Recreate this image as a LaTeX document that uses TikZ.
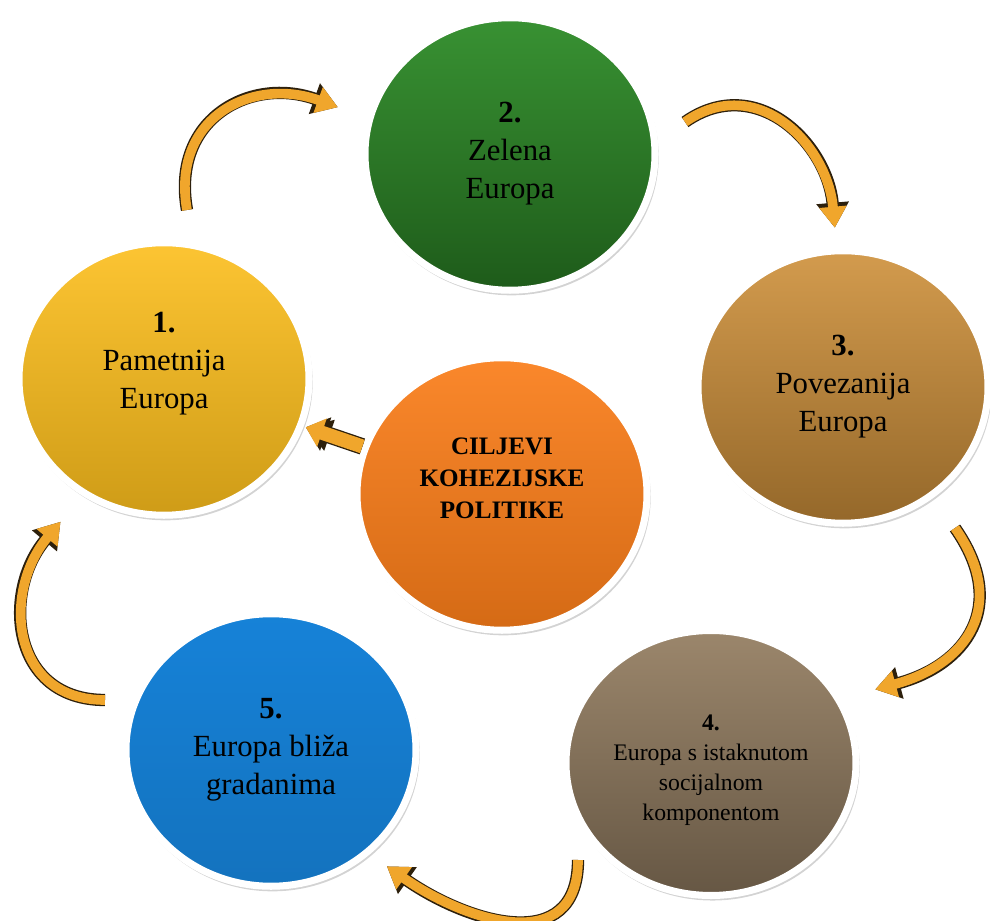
\documentclass[tikz,border=0pt]{standalone}
\usepackage{fontspec}
\setmainfont{Liberation Serif}
\usetikzlibrary{arrows.meta,shapes.geometric,shadows}

\definecolor{goalyellow}{RGB}{252,190,28}
\definecolor{goalgreen}{RGB}{46,140,40}
\definecolor{goalbrown}{RGB}{206,144,58}
\definecolor{goalorange}{RGB}{250,125,25}
\definecolor{goalblue}{RGB}{22,130,216}
\definecolor{goalgrey}{RGB}{150,128,100}
\definecolor{arrowfill}{RGB}{240,166,44}
\definecolor{arrowline}{RGB}{45,32,12}

\begin{document}
\begin{tikzpicture}[goal/.style={ellipse, minimum width=5.8cm, minimum height=5.45cm, draw=white, line width=4pt, inner sep=0pt, align=center, font=\fontsize{17.5}{21.6}\selectfont, drop shadow={shadow scale=1.015, shadow xshift=0.3mm, shadow yshift=-0.6mm, opacity=0.35}},
  flow/.style={draw=arrowfill, line width=5.5pt, shorten >=1.3pt, -{Triangle[length=0.42cm, width=0.52cm]},
    preaction={draw=arrowline, line width=7pt, -{Triangle[length=0.5cm, width=0.62cm]}}}]
\useasboundingbox (0,0) rectangle (19.8,18.42);
%goals
\node[goal, top color=goalyellow!90!white, bottom color=goalyellow!82!black] (c1) at (3.28,10.84) {\textbf{1.}\\Pametnija\\Europa\\\mbox{}};
\node[goal, top color=goalgreen!95!white, bottom color=goalgreen!65!black] (c2) at (10.2,15.34) {\textbf{2.}\\Zelena\\Europa};
\node[goal, top color=goalbrown!90!white, bottom color=goalbrown!72!black] (c3) at (16.86,10.68) {\textbf{3.}\\Povezanija\\Europa};
\node[goal, top color=goalorange!92!white, bottom color=goalorange!85!black, font=\fontsize{14.3}{18.2}\selectfont\bfseries] (c0) at (10.04,8.54) {CILJEVI\\KOHEZIJSKE\\POLITIKE\\\mbox{}};
\node[goal, top color=goalblue, bottom color=goalblue!88!black] (c5) at (5.42,3.42) {\textbf{5.}\\Europa bliža\\gradanima};
\node[goal, minimum height=5.3cm, top color=goalgrey!95!white, bottom color=goalgrey!68!black, font=\fontsize{13.5}{17}\selectfont] (c4) at (14.22,3.16) {\mbox{}\\\textbf{4.}\\Europa s istaknutom\\socijalnom\\komponentom};
%arrow ends
\coordinate (a12) at (3.74,14.22);
\coordinate (b12) at (6.80,16.26);
\coordinate (a23) at (13.70,15.98);
\coordinate (b23) at (16.70,13.82);
\coordinate (a34) at (19.10,7.86);
\coordinate (b34) at (17.46,4.62);
\coordinate (a45) at (11.56,1.22);
\coordinate (b45) at (7.70,1.12);
\coordinate (a51) at (2.10,4.42);
\coordinate (b51) at (1.24,8.02);
\draw[flow] (a12) to[out=100, in=160, looseness=1.3] (b12);
\draw[flow] (a23) to[out=35, in=95, looseness=1.2] (b23);
\draw[flow] (a34) to[out=-55, in=15, looseness=1.35] (b34);
\draw[flow] (a45) to[out=-90, in=-35, looseness=1.3] (b45);
\draw[flow] (a51) to[out=180, in=-130, looseness=1.3] (b51);
\draw[flow, line width=8pt, -{Triangle[length=0.34cm, width=0.58cm]}, preaction={draw=arrowline, line width=9.5pt, -{Triangle[length=0.42cm, width=0.68cm]}}] (c0) -- (c1);
\end{tikzpicture}
\end{document}
